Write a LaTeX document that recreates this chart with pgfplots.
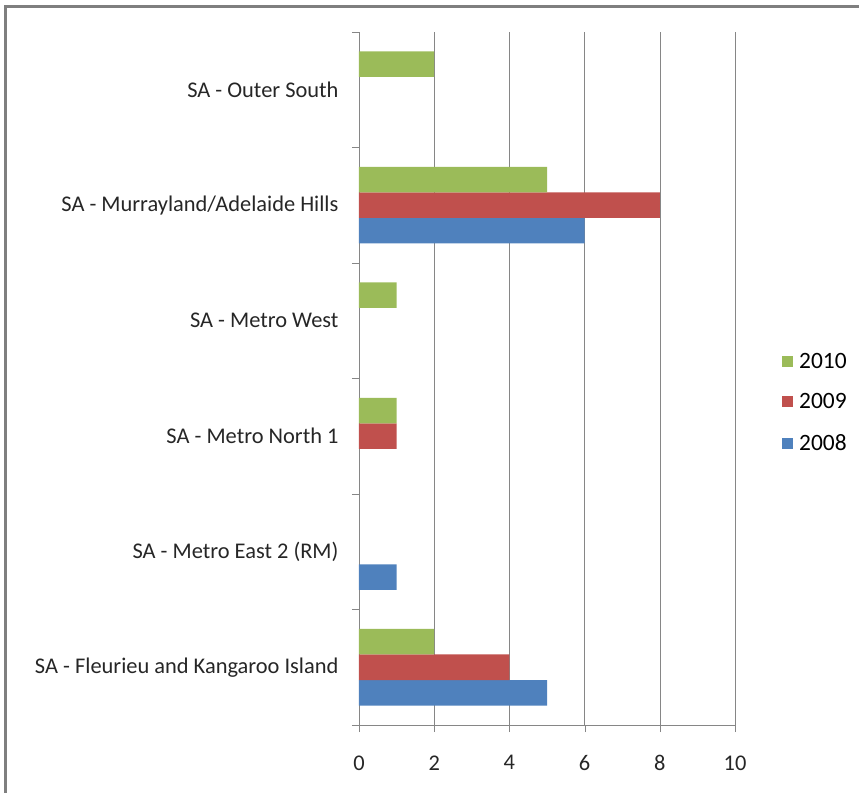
\documentclass[border=0pt]{standalone}
\usepackage{pgfplots}
\pgfplotsset{compat=1.18}
\usepackage{fontspec}
\setmainfont{Carlito}
\definecolor{c2008}{HTML}{4F81BD}
\definecolor{c2009}{HTML}{C0504D}
\definecolor{c2010}{HTML}{9BBB59}
\definecolor{gridgray}{HTML}{868686}
\definecolor{framegray}{HTML}{7F7F7F}
\begin{document}
\begin{tikzpicture}[x=1bp,y=1bp]
  \begin{axis}[
    at={(0,0)}, anchor=south west,
    scale only axis,
    width=376bp, height=693bp,
    xmin=0, xmax=10,
    ymin=-0.5, ymax=5.5,
    xbar, bar width=25.5bp,
    axis lines*=left,
    axis line style={gridgray},
    xtick={0,2,...,10},
    xmajorgrids,
    grid style={gridgray},
    major tick length=7bp,
    minor tick length=7bp,
    tick align=outside,
    tick style={gridgray},
    ytick={0,...,5},
    yticklabels={SA - Fleurieu and Kangaroo Island, SA - Metro East 2 (RM), SA - Metro North 1, SA - Metro West, SA - Murrayland/Adelaide Hills, SA - Outer South},
    y tick style={draw=none},
    minor ytick={-0.5,0.5,...,5.5},
    minor y tick style={draw=gridgray},
    /pgf/number format/assume math mode=true,
    ticklabel style={font=\fontsize{22.5}{26}\selectfont, text=black!85},
    yticklabel style={xshift=-10bp},
    xticklabel style={yshift=-20bp},
    legend style={draw=none, at={(1.125,0.540)}, anchor=north west,
      font=\fontsize{23.5}{27}\selectfont, row sep=20bp, inner sep=0pt},
    legend cell align=left,
    reverse legend,
    legend image code/.code={\fill[#1] (0bp,-5.5bp) rectangle (11bp,5.5bp); \path (15bp,0bp);},
  ]
    \addplot[fill=c2008, draw=none, bar shift=-25.5bp] coordinates {(5,0) (1,1) (6,4)};
    \addlegendentry{2008}
    \addplot[fill=c2009, draw=none, bar shift=0bp] coordinates {(4,0) (1,2) (8,4)};
    \addlegendentry{2009}
    \addplot[fill=c2010, draw=none, bar shift=25.5bp] coordinates {(2,0) (1,2) (1,3) (5,4) (2,5)};
    \addlegendentry{2010}
  \end{axis}
  \pgfresetboundingbox
  \path[use as bounding box] (-359,-68) rectangle (500,725);
  \fill[framegray] (-354.5,-68) rectangle (-352,719.5);
  \fill[framegray] (-354.5,717) rectangle (500,719.5);
\end{tikzpicture}
\end{document}
